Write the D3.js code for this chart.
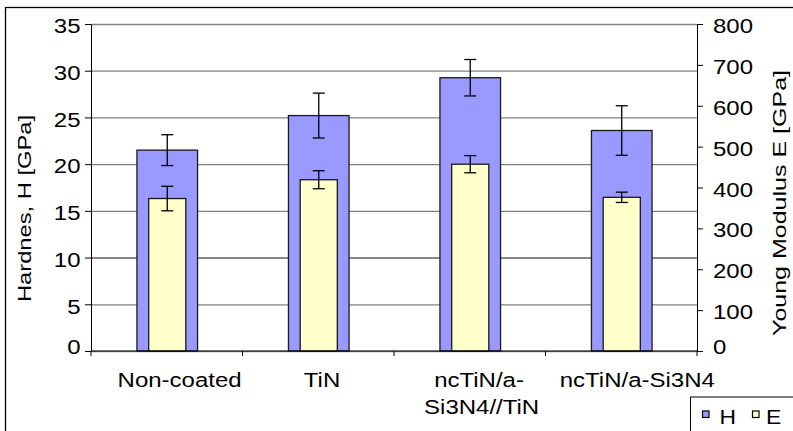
<!DOCTYPE html>
<html>
<head>
<meta charset="utf-8">
<script src="https://cdn.jsdelivr.net/npm/d3@7"></script>
<style>
  html, body { margin: 0; padding: 0; background: #fff; }
  svg { display: block; }
  text { font-family: "Liberation Sans", Arial, Helvetica, sans-serif; fill: #000; }
</style>
</head>
<body>
<svg id="chart" width="793" height="431"></svg>
<script>
// ---- data ----
const categories = ["Non-coated", "TiN", "ncTiN/a-Si3N4//TiN", "ncTiN/a-Si3N4"];
const categoryLines = [["Non-coated"], ["TiN"], ["ncTiN/a-", "Si3N4//TiN"], ["ncTiN/a-Si3N4"]];
const hardness = [21.5, 25.2, 29.25, 23.6];
const hardnessErr = [1.65, 2.4, 1.95, 2.65];
const modulus = [373, 419, 457, 376];
const modulusErr = [30, 22, 21, 12.6];
const hTicks = [0, 5, 10, 15, 20, 25, 30, 35];
const eTicks = [0, 100, 200, 300, 400, 500, 600, 700, 800];
const seriesNames = ["H", "E"];
const leftTitle = "Hardnes, H [GPa]";
const rightTitle = "Young Modulus E [GPa]";

// ---- layout ----
const L = 91, R = 697, T = 24, B = 351;
const colH = "#9999FF", colE = "#FFFFCC";
const STRETCH = 1.17;

const svg = d3.select("#chart");

// outer chart frame
svg.append("rect").attr("x", 5.5).attr("y", 7.5).attr("width", 820).attr("height", 440)
  .attr("fill", "#fff").attr("stroke", "#000").attr("stroke-width", 1.3);

const x = d3.scaleBand().domain(categories).range([L, R]).padding(0);
const yH = d3.scaleLinear().domain([0, 35]).range([B, T]);
const yE = d3.scaleLinear().domain([0, 800]).range([B, T]);

// helper: widen glyphs like the reference rendering
function widen(textSel, f) {
  textSel.each(function () {
    const len = this.getComputedTextLength();
    this.setAttribute("textLength", len * f);
    this.setAttribute("lengthAdjust", "spacingAndGlyphs");
  });
}

// gridlines
const grid = svg.append("g").attr("transform", `translate(${L},0)`)
  .call(d3.axisLeft(yH).tickValues(hTicks).tickSize(-(R - L)).tickFormat(""));
grid.select(".domain").remove();
grid.selectAll(".tick line")
  .attr("stroke", d => d === 10 ? "#111" : "#808080")
  .attr("stroke-width", d => d === 10 ? 1.1 : 1.3);

// bars
const bw = x.bandwidth();
const wH = bw * 0.4, wE = bw * 0.245;
const cx = c => x(c) + bw / 2 + 0.5;

svg.append("g").selectAll("rect").data(categories).join("rect")
  .attr("x", c => cx(c) - wH / 2)
  .attr("y", (c, i) => yH(hardness[i]))
  .attr("width", wH)
  .attr("height", (c, i) => B - yH(hardness[i]))
  .attr("fill", colH).attr("stroke", "#1a1a1a").attr("stroke-width", 1.3);

svg.append("g").selectAll("rect").data(categories).join("rect")
  .attr("x", c => cx(c) - wE / 2)
  .attr("y", (c, i) => yE(modulus[i]))
  .attr("width", wE)
  .attr("height", (c, i) => B - yE(modulus[i]))
  .attr("fill", colE).attr("stroke", "#1a1a1a").attr("stroke-width", 1.3);

// error bars
function errorBars(vals, errs, scale) {
  const g = svg.append("g").attr("stroke", "#000").attr("stroke-width", 1.3).attr("fill", "none");
  categories.forEach((c, i) => {
    const xc = cx(c);
    const y1 = scale(vals[i] + errs[i]), y0 = scale(vals[i] - errs[i]);
    g.append("line").attr("x1", xc).attr("x2", xc).attr("y1", y1).attr("y2", y0);
    g.append("line").attr("x1", xc - 6).attr("x2", xc + 6).attr("y1", y1).attr("y2", y1);
    g.append("line").attr("x1", xc - 6).attr("x2", xc + 6).attr("y1", y0).attr("y2", y0);
  });
}
errorBars(hardness, hardnessErr, yH);
errorBars(modulus, modulusErr, yE);

// left axis
const axL = svg.append("g").attr("transform", `translate(${L},0)`)
  .call(d3.axisLeft(yH).tickValues(hTicks).tickSize(6).tickSizeOuter(0));
axL.select(".domain").attr("stroke", "#000");
axL.selectAll(".tick line").attr("stroke", "#000");
axL.selectAll(".tick text")
  .attr("font-size", 20.5).attr("font-family", "Liberation Sans, Arial, sans-serif")
  .attr("fill", "#000").attr("dy", null).attr("text-anchor", "start")
  .attr("y", d => d === 0 ? 2.5 : 8.8)
  .each(function () {
    const len = this.getComputedTextLength() * STRETCH;
    this.setAttribute("x", -(L - 80.5) - len);
    this.setAttribute("textLength", len);
    this.setAttribute("lengthAdjust", "spacingAndGlyphs");
  });

// right axis
const axR = svg.append("g").attr("transform", `translate(${R},0)`)
  .call(d3.axisRight(yE).tickValues(eTicks).tickSize(6).tickSizeOuter(0));
axR.select(".domain").attr("stroke", "#000");
axR.selectAll(".tick line").attr("stroke", "#000");
axR.selectAll(".tick text")
  .attr("font-size", 20.5).attr("font-family", "Liberation Sans, Arial, sans-serif")
  .attr("fill", "#000").attr("dy", null).attr("text-anchor", "start")
  .attr("x", 713 - R)
  .attr("y", d => d === 0 ? 2.5 : 8.5);
widen(axR.selectAll(".tick text"), STRETCH);

// bottom axis (category boundaries ticks)
const axB = svg.append("g").attr("transform", `translate(0,${B})`);
axB.append("line").attr("x1", L).attr("x2", R).attr("stroke", "#000");
const bounds = categories.map(c => x(c)).concat([x(categories[categories.length - 1]) + bw]);
axB.selectAll("line.tk").data(bounds).join("line").attr("class", "tk")
  .attr("x1", d => d).attr("x2", d => d).attr("y1", 0).attr("y2", 5).attr("stroke", "#000");

// category labels
categories.forEach((c, i) => {
  const center = x(c) + bw / 2;
  categoryLines[i].forEach((line, j) => {
    const t = svg.append("text")
      .attr("font-size", 20.5).attr("text-anchor", "start")
      .attr("y", 387 + j * 26.5).text(line);
    const nat = t.node().getComputedTextLength();
    t.attr("x", center - nat * 0.464)
      .attr("textLength", nat * STRETCH).attr("lengthAdjust", "spacingAndGlyphs");
  });
});

// axis titles
svg.append("text")
  .attr("transform", "translate(31,302) rotate(-90)")
  .attr("font-size", 19).attr("text-anchor", "start")
  .attr("textLength", 187).attr("lengthAdjust", "spacingAndGlyphs")
  .text(leftTitle);
svg.append("text")
  .attr("transform", "translate(786,336) rotate(-90)")
  .attr("font-size", 19).attr("text-anchor", "start")
  .attr("textLength", 266).attr("lengthAdjust", "spacingAndGlyphs")
  .text(rightTitle);

// legend
const lg = svg.append("g");
lg.append("rect").attr("x", 690.5).attr("y", 397).attr("width", 140).attr("height", 60)
  .attr("fill", "#fff").attr("stroke", "#000").attr("stroke-width", 1);
const legX = [702.5, 752.5];
const legTX = [719.5, 766];
seriesNames.forEach((n, i) => {
  lg.append("rect").attr("x", legX[i]).attr("y", 411).attr("width", 6.5).attr("height", 6.5)
    .attr("fill", i === 0 ? colH : colE).attr("stroke", "#000").attr("stroke-width", 1.2);
  const t = lg.append("text").attr("x", legTX[i]).attr("y", 423.5)
    .attr("font-size", 19.5).text(n);
  widen(t, STRETCH);
});
</script>
</body>
</html>
